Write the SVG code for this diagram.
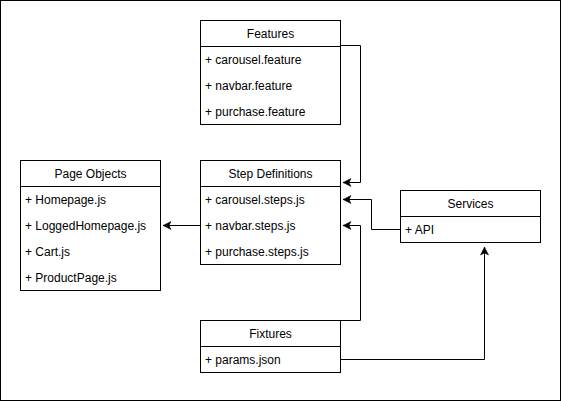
<svg xmlns="http://www.w3.org/2000/svg" width="561" height="401" viewBox="0 0 561 401">
<style>
.box{fill:#fff;stroke:#000;stroke-width:1}
.t{font-family:"Liberation Sans",Arial,sans-serif;font-size:12px;fill:#000}
.h{text-anchor:middle}
.c{fill:none;stroke:#000;stroke-width:1}
</style>
<defs>
<marker id="arr" markerUnits="userSpaceOnUse" markerWidth="10" markerHeight="10" viewBox="0 0 10 10" refX="9" refY="5" orient="auto">
<path d="M9,5 L1,1 L3,5 L1,9 Z" fill="#000" stroke="#000" stroke-width="0.5"/>
</marker>
</defs>
<rect x="0.5" y="0.5" width="560" height="400" fill="#fff" stroke="#000"/>
<g id="features">
<rect class="box" x="200.5" y="20.5" width="140" height="104"/>
<line class="c" x1="200.5" y1="46.5" x2="340.5" y2="46.5"/>
<text class="t h" x="270.5" y="38">Features</text>
<text class="t" x="205" y="64">+ carousel.feature</text>
<text class="t" x="205" y="90">+ navbar.feature</text>
<text class="t" x="205" y="116">+ purchase.feature</text>
</g>
<g id="step-definitions">
<rect class="box" x="200.5" y="160.5" width="140" height="104"/>
<line class="c" x1="200.5" y1="186.5" x2="340.5" y2="186.5"/>
<text class="t h" x="270.5" y="178">Step Definitions</text>
<text class="t" x="205" y="204">+ carousel.steps.js</text>
<text class="t" x="205" y="230">+ navbar.steps.js</text>
<text class="t" x="205" y="256">+ purchase.steps.js</text>
</g>
<g id="page-objects">
<rect class="box" x="20.5" y="160.5" width="140" height="130"/>
<line class="c" x1="20.5" y1="186.5" x2="160.5" y2="186.5"/>
<text class="t h" x="90.5" y="178">Page Objects</text>
<text class="t" x="25" y="204">+ Homepage.js</text>
<text class="t" x="25" y="230">+ LoggedHomepage.js</text>
<text class="t" x="25" y="256">+ Cart.js</text>
<text class="t" x="25" y="282">+ ProductPage.js</text>
</g>
<g id="services">
<rect class="box" x="400.5" y="190.5" width="140" height="52"/>
<line class="c" x1="400.5" y1="216.5" x2="540.5" y2="216.5"/>
<text class="t h" x="470.5" y="208">Services</text>
<text class="t" x="405" y="234">+ API</text>
</g>
<g id="fixtures">
<rect class="box" x="200.5" y="320.5" width="140" height="52"/>
<line class="c" x1="200.5" y1="346.5" x2="340.5" y2="346.5"/>
<text class="t h" x="270.5" y="338">Fixtures</text>
<text class="t" x="205" y="364">+ params.json</text>
</g>
<g id="connectors">
<path class="c" d="M340.5,45.5 H360.5 V182.5 H343" marker-end="url(#arr)"/>
<path class="c" d="M400.5,229.5 H371.5 V199.5 H343" marker-end="url(#arr)"/>
<path class="c" d="M340.5,320.5 H360.5 V225.5 H343" marker-end="url(#arr)"/>
<path class="c" d="M340.5,359.5 H484.5 V247" marker-end="url(#arr)"/>
<path class="c" d="M200.5,225.5 H163" marker-end="url(#arr)"/>
</g>
</svg>
